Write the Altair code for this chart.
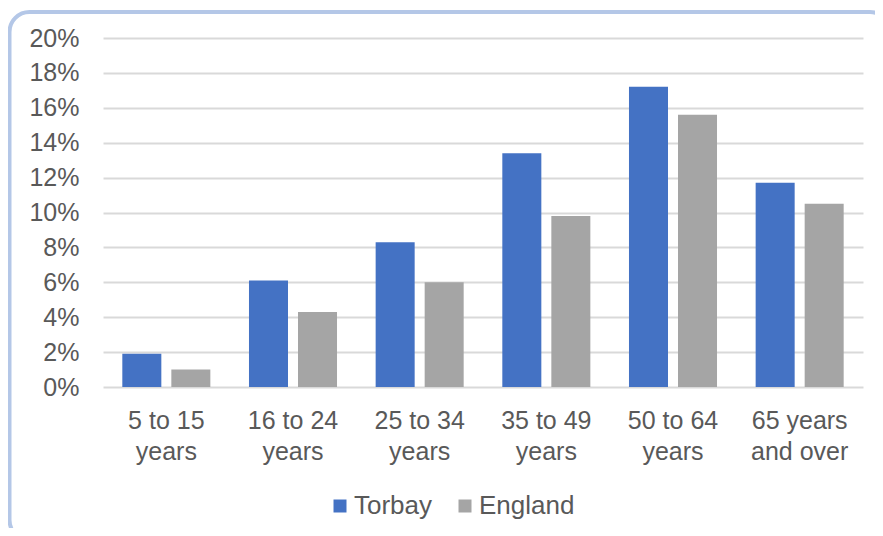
import altair as alt
import pandas as pd

# ---- data ----
ages = ["5 to 15\nyears", "16 to 24\nyears", "25 to 34\nyears",
        "35 to 49\nyears", "50 to 64\nyears", "65 years\nand over"]
torbay = [1.9, 6.1, 8.3, 13.4, 17.2, 11.7]
england = [1.0, 4.3, 6.0, 9.8, 15.6, 10.5]
series = ["Torbay", "England"]
colors = ["#4472C4", "#A5A5A5"]
y_ticks = [0, 2, 4, 6, 8, 10, 12, 14, 16, 18, 20]

rows = []
for a, t, e in zip(ages, torbay, england):
    rows.append({"age": a, "series": "Torbay", "value": t})
    rows.append({"age": a, "series": "England", "value": e})
df = pd.DataFrame(rows)

FONT = "Liberation Sans"
TXT = "#595959"
W, H = 760, 349

bars = alt.Chart(df).mark_bar().encode(
    x=alt.X("age:N", sort=ages, title=None,
            scale=alt.Scale(paddingInner=0.305, paddingOuter=0.1525),
            axis=alt.Axis(labelAngle=0, labelExpr="split(datum.label, '\\n')",
                          labelLineHeight=31, labelPadding=21, ticks=False,
                          domain=False, labelFontSize=25, labelColor=TXT,
                          labelFont=FONT, labelBaseline="top")),
    xOffset=alt.XOffset("series:N", sort=series,
                        scale=alt.Scale(paddingInner=0.204, paddingOuter=0)),
    y=alt.Y("value:Q", title=None,
            scale=alt.Scale(domain=[0, 20], nice=False),
            axis=alt.Axis(values=y_ticks, labelExpr="datum.value + '%'",
                          ticks=False, domain=False, labelPadding=24,
                          labelFontSize=25, labelColor=TXT, labelFont=FONT,
                          gridColor="#D9D9D9", gridWidth=2)),
    color=alt.Color("series:N", sort=series,
                    scale=alt.Scale(domain=series, range=colors),
                    legend=alt.Legend(title=None, orient="none", direction="horizontal",
                                      legendX=224, legendY=455,
                                      symbolType="square", symbolSize=169,
                                      symbolStrokeWidth=0, labelFontSize=26,
                                      labelColor=TXT, labelFont=FONT,
                                      labelOffset=1, columnPadding=19)),
)

border = alt.Chart(alt.Data(values=[{"k": 1}])).mark_rect(
    filled=False, stroke="#B4C7E7", strokeWidth=4, cornerRadius=20
).encode(
    x=alt.value(-93.5), x2=alt.value(787), y=alt.value(-26), y2=alt.value(502)
)

chart = alt.layer(border, bars).properties(
    width=W, height=H,
    padding={"left": 95, "top": 30, "right": 12, "bottom": 141},
    autosize=alt.AutoSizeParams(type="none"),
    background="white",
).configure_view(stroke=None)

chart.save("out.html", embed_options={"renderer": "svg", "actions": False})
